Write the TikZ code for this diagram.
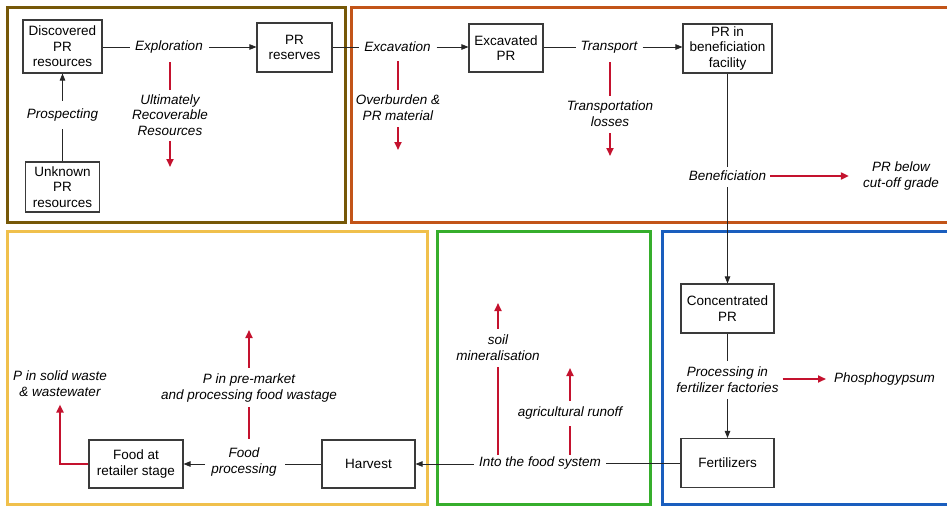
\documentclass[tikz,border=0pt]{standalone}
\usepackage{fontspec}
\setmainfont{Liberation Sans}
\usetikzlibrary{arrows.meta}

\definecolor{frameolive}{HTML}{765808}
\definecolor{frameorange}{HTML}{C25418}
\definecolor{frameyellow}{HTML}{F0C04C}
\definecolor{framegreen}{HTML}{36AE2C}
\definecolor{frameblue}{HTML}{1A5EBE}
\definecolor{lossred}{HTML}{C4122E}
\definecolor{boxline}{HTML}{3A3A3A}

\tikzset{
  stage/.style={line width=3pt},
  box/.style={draw=boxline, line width=1.1pt, fill=white, align=center,
    inner sep=0pt, font=\fontsize{13.5}{15.6}\selectfont},
  lbl/.style={align=center, inner sep=0pt,
    font=\fontsize{13.5}{15.8}\selectfont\itshape},
  flow/.style={draw=black!85, line width=0.8pt},
  flowarrow/.style={flow, -{Triangle[length=7pt,width=5.5pt]}},
  lossline/.style={draw=lossred, line width=1.8pt},
  lossarrow/.style={lossline, -{Triangle[length=8pt,width=7pt]}},
}

\begin{document}
\begin{tikzpicture}[x=1pt,y=-1pt]
\useasboundingbox (0,0) rectangle (947,506);
\clip (0,0) rectangle (947,506);

% stage frames
\draw[stage, frameolive]  (7,7)   rectangle (345,222);
\draw[stage, frameorange] (351,7) rectangle (962,222);
\draw[stage, frameyellow] (7,231) rectangle (427,504);
\draw[stage, framegreen]  (437,231) rectangle (650,504);
\draw[stage, frameblue]   (662,231) rectangle (962,504);

% stocks
\node[box, minimum width=79pt, minimum height=53pt] (disc) at (62.5,46.5) {Discovered\\PR\\resources};
\node[box, minimum width=74pt, minimum height=50pt] (unk) at (62.5,187) {Unknown\\PR\\resources};
\node[box, minimum width=75pt, minimum height=49pt] (res) at (294.5,47.5) {PR\\reserves};
\node[box, minimum width=74pt, minimum height=48pt] (exc) at (506,48) {Excavated\\PR};
\node[box, minimum width=89pt, minimum height=49pt] (benf) at (727.5,48.5) {PR in\\beneficiation\\facility};
\node[box, minimum width=93pt, minimum height=49pt] (conc) at (727.5,308.5) {Concentrated\\PR};
\node[box, minimum width=93pt, minimum height=49pt] (fert) at (727.5,463) {Fertilizers};
\node[box, minimum width=93pt, minimum height=48pt] (harv) at (368.5,464) {Harvest};
\node[box, minimum width=94pt, minimum height=48pt] (ret) at (136,464) {Food at\\retailer stage};

% processes
\node[lbl] (expl) at (169,47) {Exploration};
\node[lbl] (prosp) at (62.5,115) {Prospecting};
\node[lbl] (excv) at (397.5,47) {Excavation};
\node[lbl] (trans) at (609,47) {Transport};
\node[lbl] (benlbl) at (727.5,176) {Beneficiation};
\node[lbl] (proc) at (727.5,380) {Processing in\\fertilizer factories};
\node[lbl] (intofood) at (540,463) {Into the food system};
\node[lbl] (fproc) at (244,462) {Food\\processing};

% losses
\node[lbl] (urr) at (170,115) {Ultimately\\Recoverable\\Resources};
\node[lbl] (overb) at (398,108) {Overburden \&\\PR material};
\node[lbl] (tloss) at (610,114) {Transportation\\losses};
\node[lbl] (cutoff) at (901,176) {PR below\\cut-off grade};
\node[lbl, anchor=west] (phos) at (834,379) {Phosphogypsum};
\node[lbl] (soil) at (498,348) {soil\\mineralisation};
\node[lbl] (agri) at (570,413) {agricultural runoff};
\node[lbl] (prem) at (249,388) {P in pre-market\\and processing food wastage};
\node[lbl] (waste) at (60,383.5) {P in solid waste\\\& wastewater};

\coordinate (urrEnd) at (170,167);
\coordinate (overbEnd) at (398,150);
\coordinate (tlossEnd) at (610,156);
\coordinate (soilEnd) at (498,303);
\coordinate (agriEnd) at (570,368);
\coordinate (premEnd) at (249,330);

% main phosphorus flow
\draw[flow] (unk.north) -- ([yshift=-8pt]prosp.south);
\draw[flowarrow] ([yshift=8pt]prosp.north) -- (disc.south);
\draw[flow] (disc.east |- expl.west) -- ([xshift=-5pt]expl.west);
\draw[flowarrow] ([xshift=6pt]expl.east) -- (res.west |- expl.east);
\draw[flow] (res.east |- excv.west) -- ([xshift=-5pt]excv.west);
\draw[flowarrow] ([xshift=6pt]excv.east) -- (exc.west |- excv.east);
\draw[flow] (exc.east |- trans.west) -- ([xshift=-4pt]trans.west);
\draw[flowarrow] ([xshift=5pt]trans.east) -- (benf.west |- trans.east);
\draw[flow] (benf.south) -- ([yshift=4pt]benlbl.north);
\draw[flowarrow] ([yshift=-6pt]benlbl.south) -- (conc.north);
\draw[flow] (conc.south) -- ([yshift=6pt]proc.north);
\draw[flowarrow] ([yshift=-6pt]proc.south) -- (fert.north);
\draw[flow] (fert.west) -- ([xshift=5pt]intofood.east |- fert.west);
\draw[flowarrow] ([xshift=-5pt]intofood.west |- harv.east) -- (harv.east);
\draw[flow] (harv.west) -- ([xshift=8pt]fproc.east |- harv.west);
\draw[flowarrow] ([xshift=-6pt]fproc.west |- ret.east) -- (ret.east);

% loss flows
\draw[lossline] ([yshift=-9pt]expl.south -| urr) -- ([yshift=4pt]urr.north);
\draw[lossarrow] ([yshift=-5pt]urr.south) -- (urrEnd);
\draw[lossline] ([yshift=-9pt]excv.south -| overb) -- ([yshift=5pt]overb.north);
\draw[lossarrow] ([yshift=-6pt]overb.south) -- (overbEnd);
\draw[lossline] ([yshift=-9pt]trans.south -| tloss) -- ([yshift=5pt]tloss.north);
\draw[lossarrow] ([yshift=-6pt]tloss.south) -- (tlossEnd);
\draw[lossarrow] ([xshift=4pt]benlbl.east) -- ([xshift=-14pt]cutoff.west |- benlbl.east);
\draw[lossarrow] ([xshift=4pt]proc.east |- phos.west) -- ([xshift=-8pt]phos.west);
\draw[lossline] ([yshift=2pt]intofood.north -| soil) -- ([yshift=-6pt]soil.south);
\draw[lossarrow] ([yshift=6pt]soil.north) -- (soilEnd);
\draw[lossline] ([yshift=2pt]intofood.north -| agri) -- ([yshift=-7pt]agri.south);
\draw[lossarrow] ([yshift=6pt]agri.north) -- (agriEnd);
\draw[lossline] ([yshift=9pt]fproc.north -| prem) -- ([yshift=-5pt]prem.south);
\draw[lossarrow] ([yshift=6pt]prem.north) -- (premEnd);
\draw[lossarrow] (ret.west) -| ([yshift=-8pt]waste.south);
\end{tikzpicture}
\end{document}
